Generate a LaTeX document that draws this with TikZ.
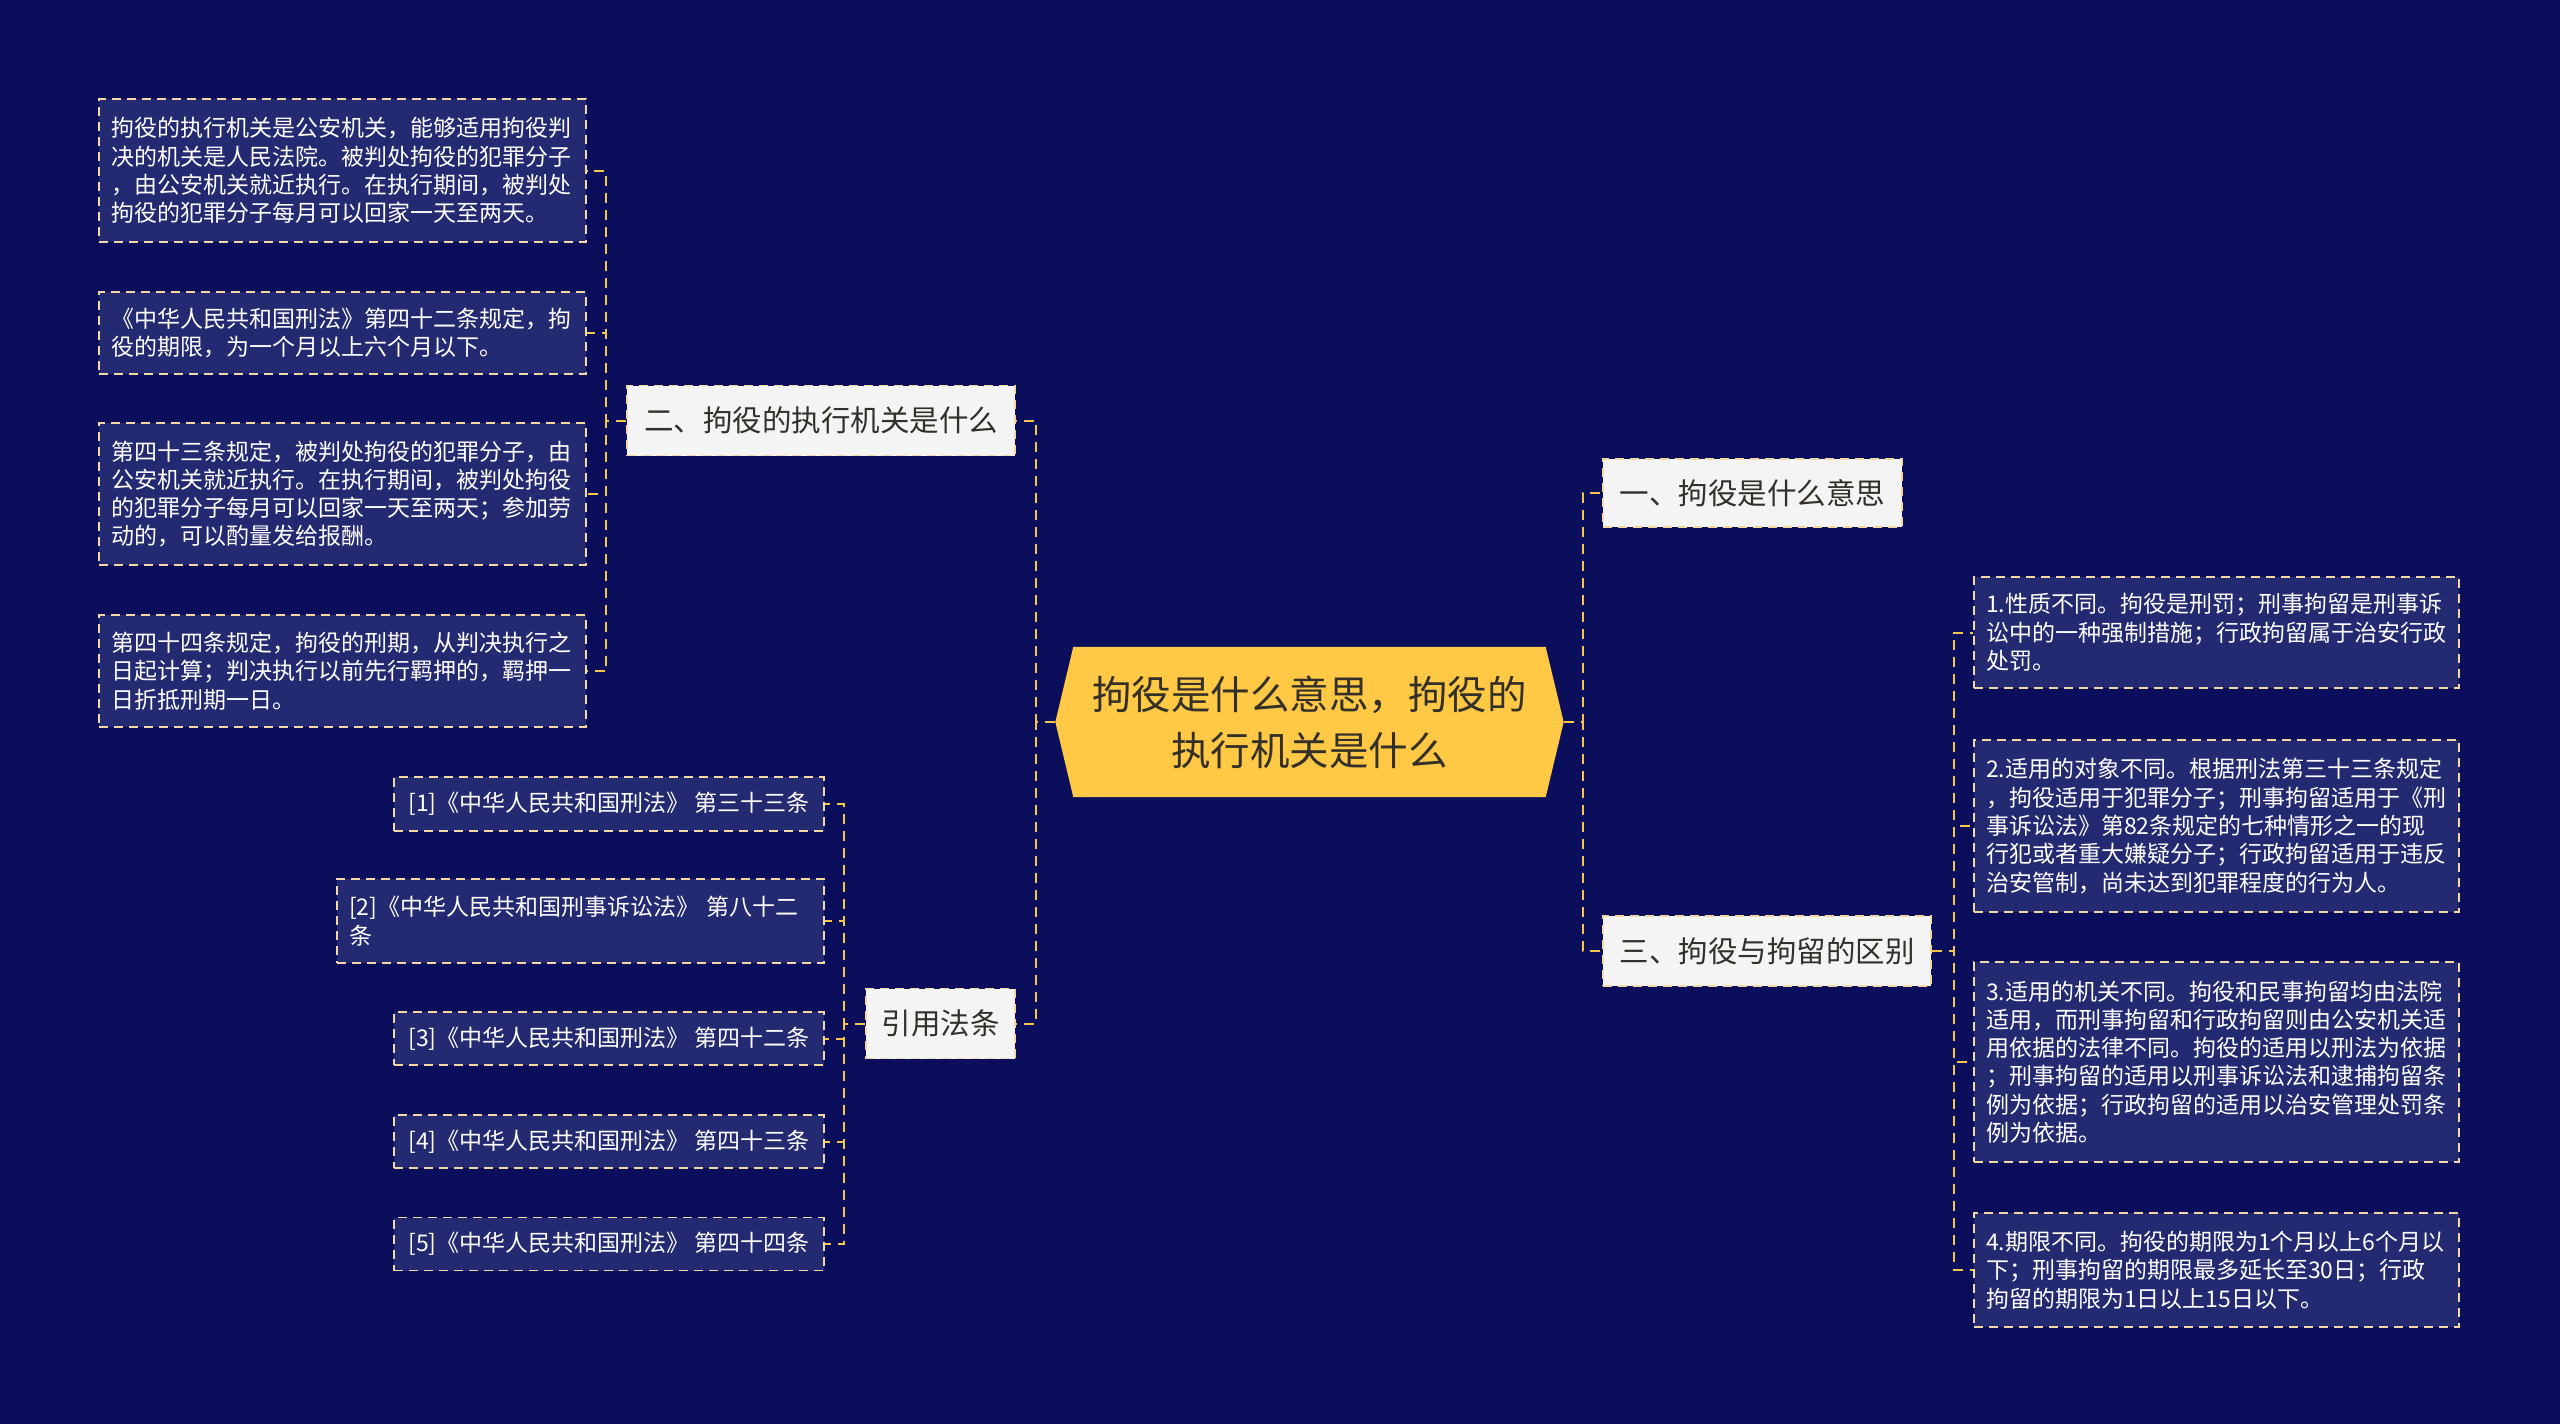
\documentclass[tikz,border=0pt]{standalone}
\usepackage{fontspec}
\newfontfamily\cjk{Noto Sans CJK SC}
\usetikzlibrary{backgrounds}
\definecolor{bgc}{HTML}{0B0E5A}
\definecolor{boxc}{HTML}{242A72}
\definecolor{bordc}{HTML}{F3D8A4}
\definecolor{connc}{HTML}{F5C64E}
\definecolor{rootc}{HTML}{FFC845}
\definecolor{lvlc}{HTML}{F4F4F4}
\definecolor{darktxt}{HTML}{33302A}
\tikzset{
  leaf/.style={draw=bordc, line width=1.8pt, dash pattern=on 9pt off 6pt, fill=boxc, text=white,
    font=\cjk\fontsize{23}{28.3}\selectfont, align=left, inner xsep=12pt, inner ysep=0pt},
  refbox/.style={leaf, inner xsep=5pt},
  topic/.style={draw=bordc, line width=1.8pt, dash pattern=on 9pt off 6pt, fill=lvlc, text=darktxt,
    font=\cjk\fontsize{29.5}{36}\selectfont, inner sep=0pt, minimum height=70pt},
  conn/.style={draw=connc, line width=2pt, dash pattern=on 10pt off 7pt},
}
\begin{document}
\begin{tikzpicture}[x=1pt,y=-1pt]
\begin{scope}[on background layer]
\fill[bgc] (0,0) rectangle (2560,1424);
\end{scope}
\useasboundingbox (0,0) rectangle (2560,1424);

% root
\node[font=\cjk\fontsize{39.5}{56}\selectfont, text=darktxt, align=center, inner sep=0pt,
  minimum width=472pt, minimum height=150pt] (root) at (1309.5,722) {拘役是什么意思，拘役的\\执行机关是什么};
\begin{scope}[on background layer]
\fill[rootc] (root.north west) -- (root.north east) -- ([xshift=18pt]root.east)
  -- (root.south east) -- (root.south west) -- ([xshift=-18pt]root.west) -- cycle;
\end{scope}

% level 1
\node[topic, minimum width=388pt] (n2) at (821,420.5) {二、拘役的执行机关是什么};
\node[topic, minimum width=299pt, minimum height=68pt] (n1) at (1752.5,493) {一、拘役是什么意思};
\node[topic, minimum width=328pt] (n3) at (1767,951) {三、拘役与拘留的区别};
\node[topic, minimum width=149pt] (n4) at (940.5,1023.5) {引用法条};

% left leaves
\node[leaf, text width=463pt, minimum height=143pt] (a1) at (342.5,170.5) {拘役的执行机关是公安机关，能够适用拘役判\\决的机关是人民法院。被判处拘役的犯罪分子\\，由公安机关就近执行。在执行期间，被判处\\拘役的犯罪分子每月可以回家一天至两天。};
\node[leaf, text width=463pt, minimum height=82pt] (a2) at (342.5,333) {《中华人民共和国刑法》第四十二条规定，拘\\役的期限，为一个月以上六个月以下。};
\node[leaf, text width=463pt, minimum height=142pt] (a3) at (342.5,494) {第四十三条规定，被判处拘役的犯罪分子，由\\公安机关就近执行。在执行期间，被判处拘役\\的犯罪分子每月可以回家一天至两天；参加劳\\动的，可以酌量发给报酬。};
\node[leaf, text width=463pt, minimum height=112pt] (a4) at (342.5,671) {第四十四条规定，拘役的刑期，从判决执行之\\日起计算；判决执行以前先行羁押的，羁押一\\日折抵刑期一日。};

% right leaves
\node[leaf, text width=461pt, minimum height=111pt] (b1) at (2216.5,632.5) {1.性质不同。拘役是刑罚；刑事拘留是刑事诉\\讼中的一种强制措施；行政拘留属于治安行政\\处罚。};
\node[leaf, text width=461pt, minimum height=172pt] (b2) at (2216.5,826) {2.适用的对象不同。根据刑法第三十三条规定\\，拘役适用于犯罪分子；刑事拘留适用于《刑\\事诉讼法》第82条规定的七种情形之一的现\\行犯或者重大嫌疑分子；行政拘留适用于违反\\治安管制，尚未达到犯罪程度的行为人。};
\node[leaf, text width=461pt, minimum height=200pt] (b3) at (2216.5,1062) {3.适用的机关不同。拘役和民事拘留均由法院\\适用，而刑事拘留和行政拘留则由公安机关适\\用依据的法律不同。拘役的适用以刑法为依据\\；刑事拘留的适用以刑事诉讼法和逮捕拘留条\\例为依据；行政拘留的适用以治安管理处罚条\\例为依据。};
\node[leaf, text width=461pt, minimum height=114pt] (b4) at (2216.5,1270) {4.期限不同。拘役的期限为1个月以上6个月以\\下；刑事拘留的期限最多延长至30日；行政\\拘留的期限为1日以上15日以下。};

% references
\node[refbox, minimum width=430pt, minimum height=54pt] (r1) at (609,804) {[1]《中华人民共和国刑法》~第三十三条};
\node[leaf, text width=463pt, minimum height=84pt] (r2) at (580.5,921) {[2]《中华人民共和国刑事诉讼法》~第八十二\\条};
\node[refbox, minimum width=430pt, minimum height=53pt] (r3) at (609,1038.5) {[3]《中华人民共和国刑法》~第四十二条};
\node[refbox, minimum width=430pt, minimum height=53pt] (r4) at (609,1141.5) {[4]《中华人民共和国刑法》~第四十三条};
\node[refbox, minimum width=430pt, minimum height=53pt] (r5) at (609,1244) {[5]《中华人民共和国刑法》~第四十四条};

% connectors
\draw[conn] ([xshift=-18pt]root.west) -- ++(-19,0) |- (n2.east);
\draw[conn] ([xshift=-18pt]root.west) -- ++(-19,0) |- (n4.east);
\draw[conn] ([xshift=18pt]root.east) -- ++(19,0) |- (n1.west);
\draw[conn] ([xshift=18pt]root.east) -- ++(19,0) |- (n3.west);
\foreach \t in {a1,a2,a3,a4} \draw[conn] (n2.west) -- ++(-20,0) |- (\t.east);
\foreach \t in {b1,b2,b3,b4} \draw[conn] (n3.east) -- ++(22,0) |- (\t.west);
\foreach \t in {r1,r2,r3,r4,r5} \draw[conn] (n4.west) -- ++(-21,0) |- (\t.east);
\end{tikzpicture}
\end{document}
